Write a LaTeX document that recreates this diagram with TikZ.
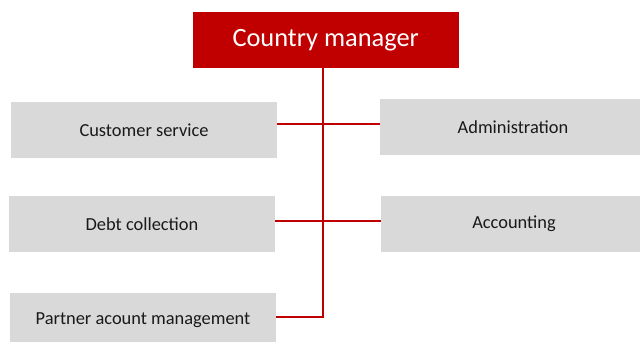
\documentclass[tikz,border=0pt]{standalone}
\usepackage{fontspec}
\setmainfont{Carlito}
\usepackage{tikz}
\definecolor{mgrred}{HTML}{C00000}
\definecolor{unitgray}{HTML}{D9D9D9}

\begin{document}
\begin{tikzpicture}[x=0.75pt,y=-0.75pt,
    unit/.style={rectangle, minimum width=199.5pt, minimum height=41.5pt, fill=unitgray, inner sep=0pt, font=\fontsize{13.8}{16}\selectfont, text=black!90},
    head/.style={rectangle, minimum width=199.5pt, minimum height=41.5pt, fill=mgrred, inner sep=0pt, font=\fontsize{19.8}{23}\selectfont, text=white},
    link/.style={draw=mgrred, line width=1.5pt}]
    \clip (0,0) rectangle (640,342);
    \node[head] (cm) at (325.7,40) {Country manager};
    \node[unit] (cs) at (144,130) {Customer service};
    \node[unit] (adm) at (513,127) {Administration};
    \node[unit] (dc) at (142,224) {Debt collection};
    \node[unit] (acc) at (514,224) {Accounting};
    \node[unit] (pam) at (143,320.5) {Partner acount management};
    % connectors
    \coordinate (r1) at ([yshift=4.2pt]cs.east);
    \coordinate (r2) at ([yshift=2.5pt]dc.east);
    \coordinate (r3) at ([yshift=2.8pt]pam.east);
    \draw[link] (r1) -- (r1 -| adm.west);
    \draw[link] (r2) -- (r2 -| acc.west);
    \draw[link] ([xshift=-2.4pt]cm.south) |- (r3);
\end{tikzpicture}
\end{document}
